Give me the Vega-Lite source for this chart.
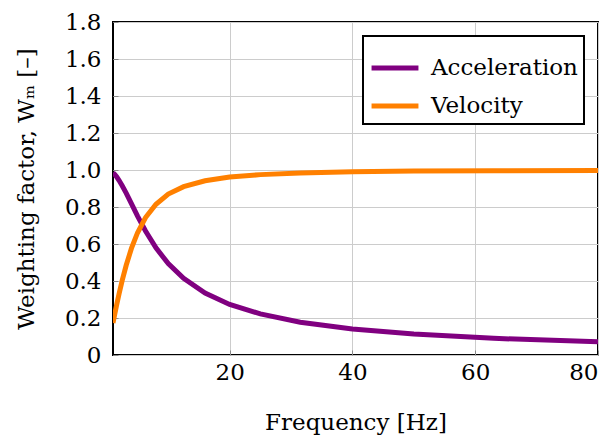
{
  "$schema": "https://vega.github.io/schema/vega-lite/v6.json",
  "autosize": "none",
  "width": 485,
  "height": 333,
  "padding": {"left": 113, "top": 22, "right": 15, "bottom": 80},
  "background": "white",
  "config": {
    "font": "DejaVu Serif",
    "view": {"stroke": "black", "strokeWidth": 2},
    "axis": {
      "labelFont": "DejaVu Serif",
      "titleFont": "DejaVu Serif",
      "labelFontSize": 23,
      "titleFontSize": 23,
      "labelColor": "black",
      "titleColor": "black",
      "titleFontWeight": "normal",
      "gridColor": "#cccccc",
      "gridWidth": 1,
      "domain": false,
      "tickColor": "#888888",
      "tickWidth": 1,
      "tickSize": -5
    },
    "legend": {
      "labelFont": "DejaVu Serif",
      "labelFontSize": 23,
      "labelColor": "black",
      "strokeColor": "black",
      "strokeWidth": 2,
      "fillColor": "white"
    }
  },
  "data": {
    "values": [
      {"f": 1, "w": 0.985, "quantity": "Acceleration"},
      {"f": 1.25, "w": 0.977, "quantity": "Acceleration"},
      {"f": 1.6, "w": 0.963, "quantity": "Acceleration"},
      {"f": 2, "w": 0.943, "quantity": "Acceleration"},
      {"f": 2.5, "w": 0.915, "quantity": "Acceleration"},
      {"f": 3.15, "w": 0.875, "quantity": "Acceleration"},
      {"f": 4, "w": 0.818, "quantity": "Acceleration"},
      {"f": 5, "w": 0.751, "quantity": "Acceleration"},
      {"f": 6.3, "w": 0.67, "quantity": "Acceleration"},
      {"f": 8, "w": 0.579, "quantity": "Acceleration"},
      {"f": 10, "w": 0.494, "quantity": "Acceleration"},
      {"f": 12.5, "w": 0.414, "quantity": "Acceleration"},
      {"f": 16, "w": 0.335, "quantity": "Acceleration"},
      {"f": 20, "w": 0.273, "quantity": "Acceleration"},
      {"f": 25, "w": 0.222, "quantity": "Acceleration"},
      {"f": 31.5, "w": 0.177, "quantity": "Acceleration"},
      {"f": 40, "w": 0.141, "quantity": "Acceleration"},
      {"f": 50, "w": 0.113, "quantity": "Acceleration"},
      {"f": 63, "w": 0.09, "quantity": "Acceleration"},
      {"f": 80, "w": 0.071, "quantity": "Acceleration"},
      {"f": 1, "w": 0.173, "quantity": "Velocity"},
      {"f": 1.25, "w": 0.215, "quantity": "Velocity"},
      {"f": 1.6, "w": 0.271, "quantity": "Velocity"},
      {"f": 2, "w": 0.332, "quantity": "Velocity"},
      {"f": 2.5, "w": 0.403, "quantity": "Velocity"},
      {"f": 3.15, "w": 0.485, "quantity": "Velocity"},
      {"f": 4, "w": 0.576, "quantity": "Velocity"},
      {"f": 5, "w": 0.661, "quantity": "Velocity"},
      {"f": 6.3, "w": 0.743, "quantity": "Velocity"},
      {"f": 8, "w": 0.815, "quantity": "Velocity"},
      {"f": 10, "w": 0.87, "quantity": "Velocity"},
      {"f": 12.5, "w": 0.91, "quantity": "Velocity"},
      {"f": 16, "w": 0.942, "quantity": "Velocity"},
      {"f": 20, "w": 0.962, "quantity": "Velocity"},
      {"f": 25, "w": 0.975, "quantity": "Velocity"},
      {"f": 31.5, "w": 0.984, "quantity": "Velocity"},
      {"f": 40, "w": 0.99, "quantity": "Velocity"},
      {"f": 50, "w": 0.994, "quantity": "Velocity"},
      {"f": 63, "w": 0.996, "quantity": "Velocity"},
      {"f": 80, "w": 0.997, "quantity": "Velocity"}
    ]
  },
  "mark": {"type": "line", "strokeWidth": 5, "clip": true},
  "encoding": {
    "x": {
      "field": "f",
      "type": "quantitative",
      "scale": {"domain": [1, 80], "nice": false, "zero": false},
      "axis": {
        "title": "Frequency [Hz]",
        "values": [20, 40, 60, 80],
        "labelPadding": 11,
        "titlePadding": 27
      }
    },
    "y": {
      "field": "w",
      "type": "quantitative",
      "scale": {"domain": [0, 1.8], "nice": false},
      "axis": {
        "title": "Weighting factor, Wₘ [–]",
        "values": [0, 0.2, 0.4, 0.6, 0.8, 1, 1.2, 1.4, 1.6, 1.8],
        "labelExpr": "datum.value == 0 ? '0' : format(datum.value, '.1f')",
        "labelPadding": 17,
        "titlePadding": 26
      }
    },
    "color": {
      "field": "quantity",
      "type": "nominal",
      "scale": {"domain": ["Acceleration", "Velocity"], "range": ["#800080", "#ff8000"]},
      "legend": {
        "title": null,
        "orient": "top-right",
        "offset": 14,
        "symbolType": "stroke",
        "symbolStrokeWidth": 5,
        "symbolSize": 2200,
        "padding": 6,
        "rowPadding": 0,
        "labelOffset": 10
      }
    }
  }
}
